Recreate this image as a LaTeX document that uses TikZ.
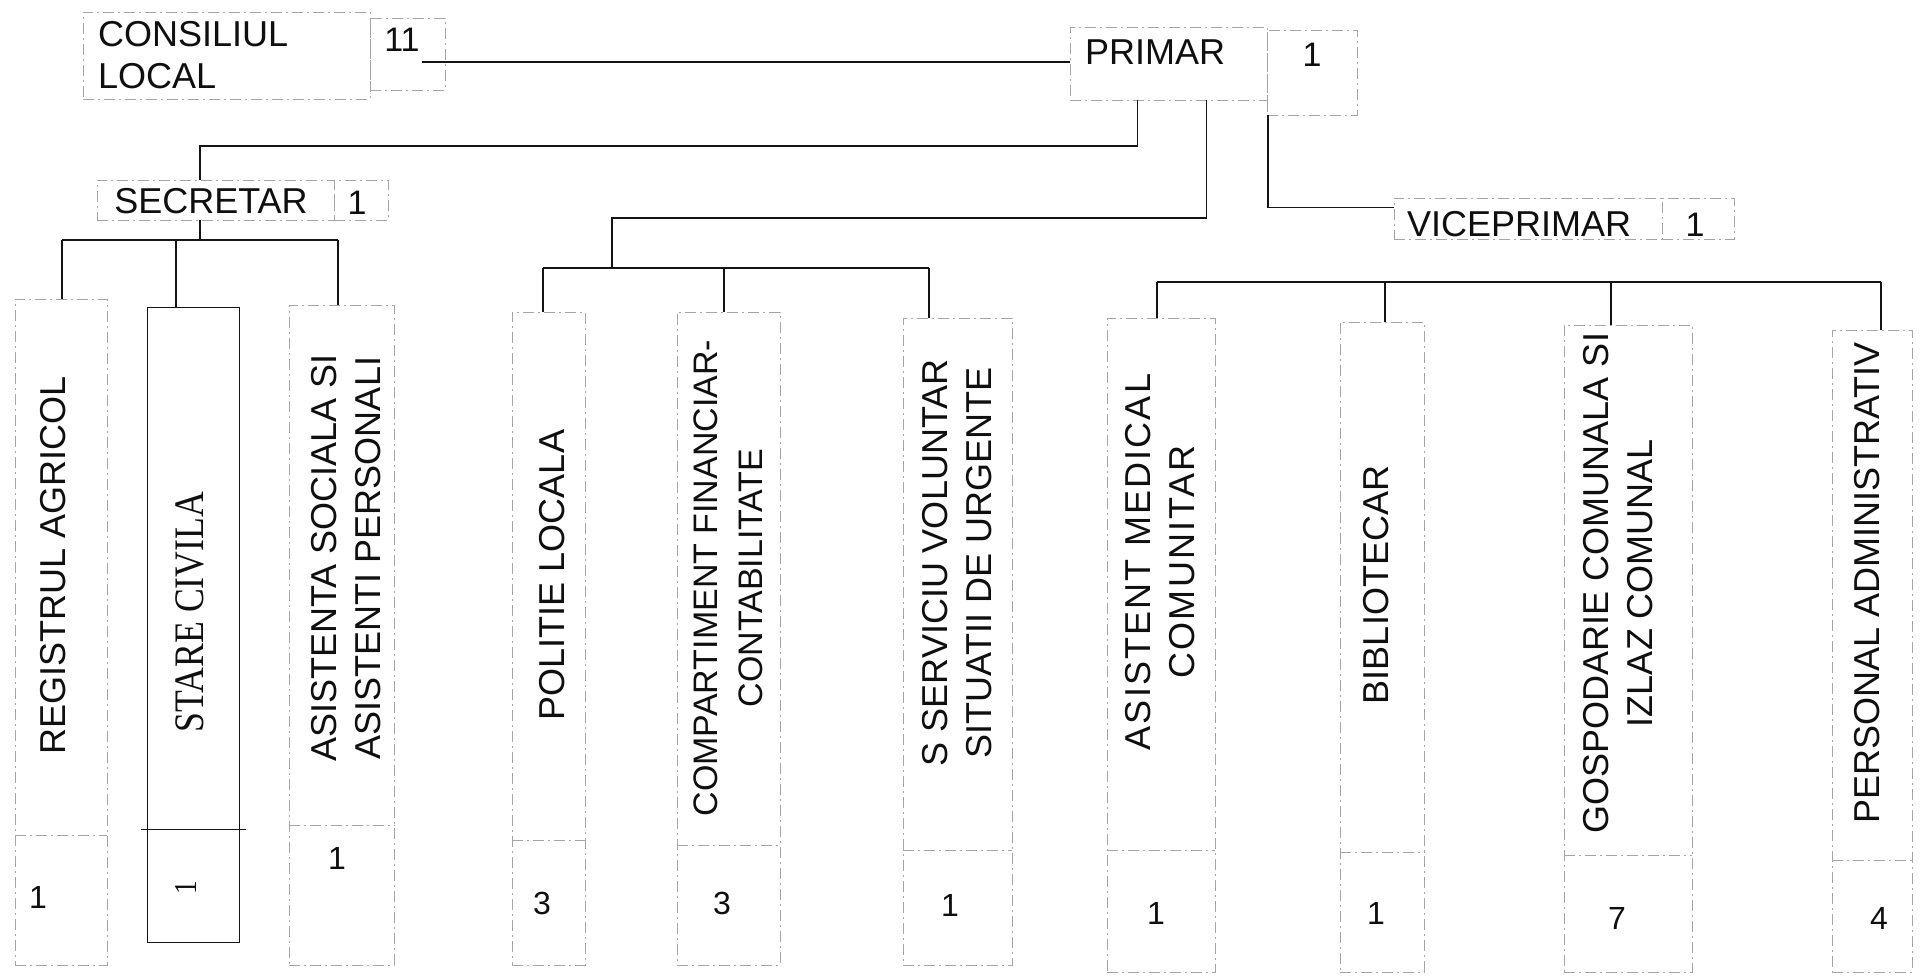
\documentclass[tikz,border=0pt]{standalone}
\usepackage{fontspec}
\setmainfont{Liberation Sans}
\newfontfamily\narrowSerif[FakeStretch=0.85]{Liberation Serif}
\newfontfamily\wideSans[LetterSpace=6]{Liberation Sans}
\usepackage{xcolor}
\definecolor{inkLine}{RGB}{20, 20, 20}
\definecolor{inkText}{RGB}{15, 15, 15}
\definecolor{scanFrame}{RGB}{165, 165, 165}

\begin{document}
\begin{tikzpicture}[x=1pt, y=-1pt]

  % Page (scan size, y grows downwards)
  \fill[white] (0,0) rectangle (1922,979);
  \useasboundingbox (0,0) rectangle (1922,979);

  \tikzset{
    frame/.style={draw=scanFrame, line width=0.8pt,
      dash pattern=on 11pt off 4pt on 2pt off 4pt, inner sep=0pt},
    solidframe/.style={draw=inkLine, line width=1pt, inner sep=0pt},
    link/.style={draw=inkLine, line width=1.4pt},
    head/.style={font=\fontsize{36}{42}\selectfont, text=inkText, inner sep=0pt},
    unit/.style={font=\fontsize{36}{44}\selectfont, text=inkText,
      rotate=90, align=center, inner sep=0pt},
    count/.style={font=\fontsize{32}{36}\selectfont, text=inkText, inner sep=0pt}
  }

  % --- Top row: council and mayor ---
  \node[frame, minimum width=287, minimum height=87] (consBox) at (226.5,55.5) {};
  \node[head, align=left, anchor=west] (consText) at (98,55) {CONSILIUL\\LOCAL};
  \node[frame, minimum width=75, minimum height=72] (consCnt) at (407.5,54) {};
  \node[count, font=\fontsize{34}{40}\selectfont] (consNum) at (402,40) {11};

  \node[frame, minimum width=197, minimum height=73] (primBox) at (1168.5,63.5) {};
  \node[head] (primText) at (1155,52) {PRIMAR};
  \node[frame, minimum width=90, minimum height=85] (primCnt) at (1312,72.5) {};
  \node[count, font=\fontsize{34}{40}\selectfont] (primNum) at (1312,55) {1};

  % --- Second row: secretary and deputy mayor ---
  \node[frame, minimum width=237, minimum height=40] (secBox) at (215.5,200) {};
  \node[head] (secText) at (211,201) {SECRETAR};
  \node[frame, minimum width=54, minimum height=40] (secCnt) at (361,200) {};
  \node[count, font=\fontsize{34}{40}\selectfont] (secNum) at (357,203) {1};

  \node[frame, minimum width=268, minimum height=41] (viceBox) at (1528,218.5) {};
  \node[head] (viceText) at (1519,224) {VICEPRIMAR};
  \node[frame, minimum width=72, minimum height=41] (viceCnt) at (1698,218.5) {};
  \node[count, font=\fontsize{34}{40}\selectfont] (viceNum) at (1695,225) {1};

  % --- Leaf boxes ---
  % 1. under the secretary
  \node[frame, minimum width=92, minimum height=666] (regBox) at (61,632) {};
  \node[unit] (regText) at (53,565) {REGISTRUL AGRICOL};
  \node[count] (regNum) at (38,897) {1};

  \node[solidframe, minimum width=92, minimum height=635] (stareBox) at (193,624.5) {};
  \node[unit, font=\narrowSerif\fontsize{42}{46}\selectfont] (stareText) at (190,612) {STARE CIVILA};
  \node[count, rotate=90, font=\narrowSerif\fontsize{32}{36}\selectfont] (stareNum) at (186,888) {1};

  \node[frame, minimum width=105, minimum height=660] (asistBox) at (341.5,635) {};
  \node[unit] (asistText) at (346,558) {ASISTENTA SOCIALA SI\\ASISTENTI PERSONALI};
  \node[count] (asistNum) at (337,858) {1};

  % 2. under the mayor
  \node[frame, minimum width=73, minimum height=653] (polBox) at (548.5,638.5) {};
  \node[unit] (polText) at (552,575) {POLITIE LOCALA};
  \node[count] (polNum) at (542,903) {3};

  \node[frame, minimum width=103, minimum height=653] (compBox) at (728.5,638.5) {};
  \node[unit, font=\fontsize{34}{45}\selectfont] (compText) at (728,578) {COMPARTIMENT FINANCIAR-\\CONTABILITATE};
  \node[count] (compNum) at (722,903) {3};

  \node[frame, minimum width=109, minimum height=647] (servBox) at (957.5,641.5) {};
  \node[unit] (servText) at (957,563) {S SERVICIU VOLUNTAR\\SITUATII DE URGENTE};
  \node[count] (servNum) at (950,905) {1};

  % 3. under the deputy mayor
  \node[frame, minimum width=108, minimum height=654] (medBox) at (1161,645) {};
  \node[unit, font=\wideSans\fontsize{36}{44}\selectfont] (medText) at (1160,562) {ASISTENT MEDICAL\\COMUNITAR};
  \node[count] (medNum) at (1156,913) {1};

  \node[frame, minimum width=84, minimum height=650] (bibBox) at (1382,647) {};
  \node[unit] (bibText) at (1376,585) {BIBLIOTECAR};
  \node[count] (bibNum) at (1376,913) {1};

  \node[frame, minimum width=128, minimum height=647] (gospBox) at (1628,648.5) {};
  \node[unit] (gospText) at (1618,583) {GOSPODARIE COMUNALA SI\\IZLAZ COMUNAL};
  \node[count] (gospNum) at (1617,918) {7};

  \node[frame, minimum width=80, minimum height=642] (persBox) at (1872,651) {};
  \node[unit] (persText) at (1867,583) {PERSONAL ADMINISTRATIV};
  \node[count] (persNum) at (1879,918) {4};

  % dividers between name and head count
  \draw[frame] ([yshift=130pt]regBox.south west) -- ([yshift=130pt]regBox.south east);
  \draw[solidframe] ([xshift=-6pt,yshift=113pt]stareBox.south west) -- ([xshift=6pt,yshift=113pt]stareBox.south east);
  \draw[frame] ([yshift=140pt]asistBox.south west) -- ([yshift=140pt]asistBox.south east);
  \draw[frame] ([yshift=125pt]polBox.south west) -- ([yshift=125pt]polBox.south east);
  \draw[frame] ([yshift=120pt]compBox.south west) -- ([yshift=120pt]compBox.south east);
  \draw[frame] ([yshift=115pt]servBox.south west) -- ([yshift=115pt]servBox.south east);
  \draw[frame] ([yshift=122pt]medBox.south west) -- ([yshift=122pt]medBox.south east);
  \draw[frame] ([yshift=120pt]bibBox.south west) -- ([yshift=120pt]bibBox.south east);
  \draw[frame] ([yshift=117pt]gospBox.south west) -- ([yshift=117pt]gospBox.south east);
  \draw[frame] ([yshift=112pt]persBox.south west) -- ([yshift=112pt]persBox.south east);

  % --- Connectors ---
  \coordinate (consLink) at (422,62);
  \draw[link] (consLink) -- (consLink -| primBox.west);

  \coordinate (secUp) at (200,146);
  \draw[link] ([xshift=-31pt]primBox.south) |- (secUp) -- (secUp |- secBox.north);

  \coordinate (polUp) at (612,218);
  \coordinate (polL) at (543,268);
  \coordinate (polM) at (724,268);
  \coordinate (polR) at (929,268);
  \draw[link] ([xshift=38pt]primBox.south) |- (polUp) -- (polUp |- polL);

  \draw[link] ([xshift=-44pt]primCnt.south) |- ([yshift=11pt]viceBox.west);

  % secretary bus
  \coordinate (secDown) at (200,240);
  \coordinate (secL) at (62,240);
  \coordinate (secM) at (176,240);
  \coordinate (secR) at (338,240);
  \draw[link] (secDown) -- (secDown |- secBox.south);
  \draw[link] (secL) -- (secR);
  \draw[link] (secL) -- (secL |- regBox.north);
  \draw[link] (secM) -- (secM |- stareBox.north);
  \draw[link] (secR) -- (secR |- asistBox.north);

  % mayor bus
  \draw[link] (polL) -- (polR);
  \draw[link] (polL) -- (polL |- polBox.north);
  \draw[link] (polM) -- (polM |- compBox.north);
  \draw[link] (polR) -- (polR |- servBox.north);

  % deputy mayor bus
  \coordinate (vicL) at (1157,282);
  \coordinate (vicB) at (1385,282);
  \coordinate (vicG) at (1611,282);
  \coordinate (vicR) at (1881,282);
  \draw[link] (vicL) -- (vicR);
  \draw[link] (vicL) -- (vicL |- medBox.north);
  \draw[link] (vicB) -- (vicB |- bibBox.north);
  \draw[link] (vicG) -- (vicG |- gospBox.north);
  \draw[link] (vicR) -- (vicR |- persBox.north);

\end{tikzpicture}
\end{document}
